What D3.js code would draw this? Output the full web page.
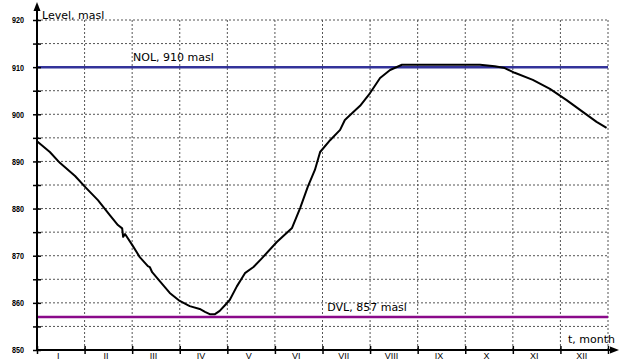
<!DOCTYPE html>
<html>
<head>
<meta charset="utf-8">
<script src="https://cdn.jsdelivr.net/npm/d3@7"></script>
<style>
  body { margin: 0; background: #fff; }
  text { font-family: "DejaVu Sans", Verdana, sans-serif; fill: #000; }
</style>
</head>
<body>
<div id="chart"></div>
<script>
// Reservoir level over the year, month as 0..12
let months = ['I', 'II', 'III', 'IV', 'V', 'VI', 'VII', 'VIII', 'IX', 'X', 'XI', 'XII']
let tValues = [0, 0.27, 0.48, 0.80, 1.03, 1.28, 1.53, 1.70, 1.79, 1.81, 1.85, 2.00, 2.16, 2.33, 2.37, 2.42,
  2.58, 2.79, 3.00, 3.21, 3.42, 3.53, 3.63, 3.74, 3.84, 3.95, 4.05, 4.20, 4.37, 4.55, 4.73, 5.04,
  5.36, 5.53, 5.69, 5.84, 5.95, 6.16, 6.37, 6.47, 6.62, 6.79, 7.00, 7.21, 7.42, 7.67, 8.05,
  8.47, 8.89, 9.31, 9.62, 9.83, 10.04, 10.42, 10.78, 11.13, 11.47, 11.76, 11.97]
let levelValues = [894.3, 892.0, 889.7, 886.9, 884.4, 881.8, 878.6, 876.5, 875.8, 874.0, 874.6, 872.3, 869.7, 867.8, 867.6, 866.5,
  864.6, 862.1, 860.4, 859.3, 858.7, 858.1, 857.6, 857.6, 858.3, 859.5, 860.6, 863.5, 866.3, 867.6, 869.5, 872.9,
  875.9, 880.1, 884.6, 888.2, 892.0, 894.5, 896.7, 898.8, 900.2, 901.8, 904.5, 907.7, 909.4, 910.5, 910.5,
  910.5, 910.5, 910.5, 910.2, 909.8, 908.8, 907.3, 905.4, 903.0, 900.5, 898.4, 897.1]
let refLevels = [910, 857]
let refLabels = ['NOL, 910 masl', 'DVL, 857 masl']
let refColors = ['#33339a', '#8a0a8a']

let svgWidth = 620, svgHeight = 360
let x0 = 37, x1 = 608, yTop = 20, yBottom = 350

let svg = d3.select('#chart').append('svg')
  .attr('width', svgWidth)
  .attr('height', svgHeight)

let x = d3.scaleLinear().domain([0, 12]).range([x0, x1])
let y = d3.scaleLinear().domain([850, 920]).range([yBottom, yTop])

let halfSteps = d3.range(850, 920.1, 5)
let monthEdges = d3.range(0, 13)

// dotted grid
svg.append('g').selectAll('line').data(halfSteps.filter(d => d > 850))
  .join('line')
  .attr('x1', x0).attr('x2', x1)
  .attr('y1', d => y(d)).attr('y2', d => y(d))
  .attr('stroke', '#555').attr('stroke-width', 1)
  .attr('stroke-dasharray', '2,2')
svg.append('g').selectAll('line').data(monthEdges.filter(d => d > 0))
  .join('line')
  .attr('x1', d => x(d)).attr('x2', d => x(d))
  .attr('y1', yTop).attr('y2', yBottom)
  .attr('stroke', '#555').attr('stroke-width', 1)
  .attr('stroke-dasharray', '2,2')

// reference levels
svg.append('g').selectAll('line').data(refLevels)
  .join('line')
  .attr('x1', x0).attr('x2', x1)
  .attr('y1', d => y(d)).attr('y2', d => y(d))
  .attr('stroke', (d, i) => refColors[i]).attr('stroke-width', 2.5)

svg.append('text').attr('x', x(2.02)).attr('y', y(910) - 6)
  .style('font-size', '11px').text(refLabels[0])
svg.append('text').attr('x', x(6.1)).attr('y', y(857) - 6)
  .style('font-size', '11px').text(refLabels[1])

// level curve
let line = d3.line()
  .x((d, i) => x(tValues[i]))
  .y(d => y(d))
svg.append('path')
  .datum(levelValues)
  .attr('fill', 'none')
  .attr('stroke', '#000')
  .attr('stroke-width', 2)
  .attr('stroke-linejoin', 'round')
  .attr('d', line)

// Y axis
let yAxis = svg.append('g')
  .attr('transform', 'translate(' + x0 + ',0)')
  .call(d3.axisLeft(y).tickValues(halfSteps).tickSize(4)
    .tickFormat(d => d % 10 === 0 ? d : ''))
yAxis.select('.domain').remove()
yAxis.selectAll('.tick line').attr('x2', -4).attr('x1', 4).attr('stroke', '#000').attr('stroke-width', 1.5)
yAxis.selectAll('.tick text')
  .attr('x', -13)
  .attr('textLength', d => d % 10 === 0 ? 12 : null)
  .attr('lengthAdjust', 'spacingAndGlyphs')
  .style('font-family', '"Liberation Sans", Arial, sans-serif')
  .style('font-size', '9px').style('font-weight', 'bold').attr('fill', '#000')

svg.append('line').attr('x1', x0).attr('x2', x0).attr('y1', 8).attr('y2', yBottom + 1)
  .attr('stroke', '#000').attr('stroke-width', 2)
svg.append('path').attr('d', 'M' + x0 + ',2L' + (x0 - 3.5) + ',11L' + (x0 + 3.5) + ',11Z').attr('fill', '#000')

// X axis
let xAxis = svg.append('g')
  .attr('transform', 'translate(0,' + yBottom + ')')
  .call(d3.axisBottom(x).tickValues(monthEdges).tickSize(4).tickFormat(''))
xAxis.select('.domain').remove()
xAxis.selectAll('.tick line').attr('y1', -4).attr('y2', 4).attr('stroke', '#000').attr('stroke-width', 1.5)

let monthAxis = svg.append('g')
  .attr('transform', 'translate(-3,' + yBottom + ')')
  .call(d3.axisBottom(x).tickValues(d3.range(0.5, 12, 1)).tickSize(0)
    .tickFormat((d, i) => months[i]))
monthAxis.select('.domain').remove()
monthAxis.selectAll('.tick text')
  .attr('y', 3).attr('dy', '0.71em')
  .style('font-family', '"Liberation Sans", Arial, sans-serif')
  .style('font-size', '9px').attr('fill', '#222')

svg.append('line').attr('x1', x0 - 1).attr('x2', 612).attr('y1', yBottom).attr('y2', yBottom)
  .attr('stroke', '#000').attr('stroke-width', 2)
svg.append('path').attr('d', 'M619,' + yBottom + 'L610,' + (yBottom - 3.5) + 'L610,' + (yBottom + 3.5) + 'Z').attr('fill', '#000')

// axis titles
svg.append('text').attr('x', 42).attr('y', 19).style('font-size', '11px').text('Level, masl')
svg.append('text').attr('x', 568).attr('y', 343).style('font-size', '11px').text('t, month')
</script>
</body>
</html>
